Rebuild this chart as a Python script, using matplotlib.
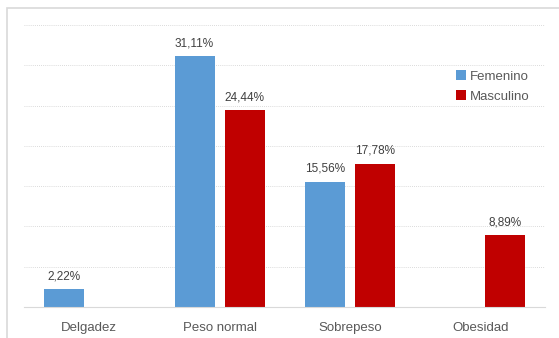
import numpy as np
import matplotlib.pyplot as plt
from matplotlib.patches import Rectangle

categorias = ["Delgadez", "Peso normal", "Sobrepeso", "Obesidad"]
femenino = [2.22, 31.11, 15.56, np.nan]
masculino = [np.nan, 24.44, 17.78, 8.89]
series = ["Femenino", "Masculino"]

azul = "#5B9BD5"
rojo = "#C00000"

plt.rcParams['font.family'] = ['Liberation Sans', 'DejaVu Sans']

fig = plt.figure(figsize=(5.59, 3.38), dpi=100)
W, H = 559, 338
ax = fig.add_axes([24 / W, 1 - 307 / H, 521.5 / W, 282 / H])

# marco del area del grafico
fig.patches.append(Rectangle((7 / W, -0.1), 1.2, 1 - 8 / H + 0.1, transform=fig.transFigure,
                             fill=False, edgecolor="#d9d9d9", linewidth=1.2))

x = np.arange(len(categorias))
ancho = 0.307
sep = 0.077
off = (ancho + sep) / 2

b1 = ax.bar(x - off, femenino, ancho, color=azul, label=series[0])
b2 = ax.bar(x + off, masculino, ancho, color=rojo, label=series[1])

for barras, vals in ((b1, femenino), (b2, masculino)):
    for b, v in zip(barras, vals):
        if np.isnan(v):
            continue
        ax.annotate(f"{v:.2f}%".replace(".", ","), (b.get_x() + b.get_width() / 2, v),
                    xytext=(0, 5), textcoords="offset points", ha="center", va="bottom",
                    fontsize=8.5, color="#404040")

ax.set_xlim(-0.5, 3.5)
ax.set_ylim(0, 35)
ax.set_yticks(np.arange(0, 36, 5))
ax.yaxis.grid(True, linestyle=(0, (1, 1.5)), color="#cfcfcf", linewidth=0.6)
ax.set_axisbelow(True)
ax.tick_params(axis="y", left=False, labelleft=False)
ax.tick_params(axis="x", bottom=False, pad=7, labelsize=9.5, labelcolor="#595959")
ax.set_xticks(x)
ax.set_xticklabels(categorias)
for s in ("left", "right", "top"):
    ax.spines[s].set_visible(False)
ax.spines["bottom"].set_color("#d9d9d9")

ax.legend(loc="upper left", bbox_to_anchor=(427 / 521.5, 1 - 40 / 282), frameon=False,
          fontsize=9.5, labelcolor="#595959", handlelength=0.7, handleheight=0.7,
          handletextpad=0.3, labelspacing=0.6, borderaxespad=0)

fig.savefig("out.png", dpi=100)
